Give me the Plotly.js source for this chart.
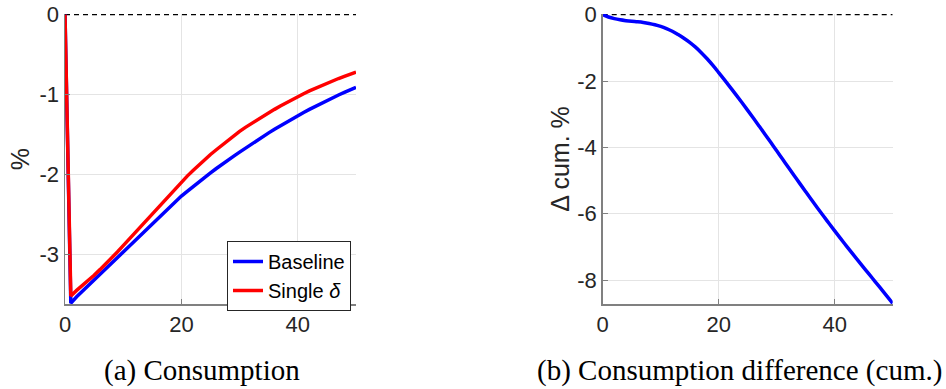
<!DOCTYPE html>
<html><head><meta charset="utf-8">
<script src="https://cdn.plot.ly/plotly-3.0.1.min.js"></script>
<style>html,body{margin:0;padding:0;background:#fff}#chart{width:946px;height:389px}</style>
</head><body><div id="chart"></div>
<script>
const periods = [0,1,2,3,4,5,6,7,8,9,10,11,12,13,14,15,16,17,18,19,20,21,22,23,24,25,26,27,28,29,30,31,32,33,34,35,36,37,38,39,40,41,42,43,44,45,46,47,48,49,50];
const baseline = [0,-3.61,-3.53,-3.46,-3.39,-3.32,-3.25,-3.17,-3.10,-3.03,-2.96,-2.89,-2.82,-2.76,-2.69,-2.62,-2.55,-2.48,-2.41,-2.34,-2.27,-2.21,-2.15,-2.09,-2.035,-1.98,-1.925,-1.87,-1.82,-1.77,-1.72,-1.67,-1.62,-1.572,-1.525,-1.479,-1.434,-1.39,-1.347,-1.305,-1.264,-1.224,-1.185,-1.147,-1.11,-1.074,-1.039,-1.005,-0.972,-0.94,-0.909];
const singleDelta = [0,-3.52,-3.45,-3.39,-3.33,-3.26,-3.19,-3.12,-3.05,-2.97,-2.89,-2.81,-2.73,-2.65,-2.57,-2.49,-2.41,-2.33,-2.25,-2.17,-2.09,-2.02,-1.95,-1.88,-1.815,-1.75,-1.69,-1.63,-1.57,-1.515,-1.46,-1.41,-1.363,-1.317,-1.272,-1.228,-1.185,-1.143,-1.102,-1.063,-1.025,-0.989,-0.954,-0.921,-0.889,-0.858,-0.828,-0.799,-0.771,-0.744,-0.718];
const cumDiff = [0,-0.07,-0.12,-0.155,-0.18,-0.20,-0.215,-0.235,-0.265,-0.305,-0.355,-0.42,-0.50,-0.60,-0.71,-0.835,-0.98,-1.145,-1.33,-1.53,-1.745,-1.965,-2.189,-2.417,-2.649,-2.885,-3.124,-3.366,-3.61,-3.856,-4.103,-4.351,-4.599,-4.846,-5.092,-5.336,-5.578,-5.817,-6.053,-6.286,-6.516,-6.743,-6.967,-7.188,-7.406,-7.622,-7.836,-8.05,-8.265,-8.48,-8.70];
const refX = [0, 50];
const refY = [0, 0];
const xTicks = [0, 20, 40];
const xTickText = ['0', '20', '40'];
const yTicksA = [0, -1, -2, -3];
const yTickTextA = ['0', '-1', '-2', '-3'];
const yTicksB = [0, -2, -4, -6, -8];
const yTickTextB = ['0', '-2', '-4', '-6', '-8'];
const captionA = '(a) Consumption';
const captionB = '(b) Consumption difference (cum.)';

const W = 946, H = 389;
const sans = 'Liberation Sans, Arial, sans-serif';
const tickFont = {family: sans, size: 22, color: '#262626'};
const axisCommon = {
  showgrid: true, gridcolor: '#e4e4e4', gridwidth: 1,
  showline: true, linecolor: '#808080', linewidth: 1.5,
  ticks: 'inside', ticklen: 5, tickcolor: '#808080', tickwidth: 1,
  zeroline: false, tickfont: tickFont, fixedrange: true
};
const yDom = [1 - 304/H, 1 - 14/H];

const traces = [
  {x: refX, y: refY, xaxis: 'x', yaxis: 'y', mode: 'lines', line: {color: '#000', width: 1.1, dash: '5px,4px'}, showlegend: false, hoverinfo: 'skip'},
  {x: periods, y: baseline, xaxis: 'x', yaxis: 'y', mode: 'lines', name: 'Baseline', line: {color: '#0000ff', width: 3.5}},
  {x: periods, y: singleDelta, xaxis: 'x', yaxis: 'y', mode: 'lines', name: 'Single <i>δ</i>', line: {color: '#ff0000', width: 3.5}},
  {x: refX, y: refY, xaxis: 'x2', yaxis: 'y2', mode: 'lines', line: {color: '#000', width: 1.1, dash: '5px,4px'}, showlegend: false, hoverinfo: 'skip'},
  {x: periods, y: cumDiff, xaxis: 'x2', yaxis: 'y2', mode: 'lines', showlegend: false, line: {color: '#0000ff', width: 3.5, shape: 'spline', smoothing: 1}}
];

const layout = {
  width: W, height: H,
  margin: {l: 0, r: 0, t: 0, b: 0},
  paper_bgcolor: '#fff', plot_bgcolor: '#fff',
  showlegend: true,
  xaxis: Object.assign({}, axisCommon, {domain: [65/W, 356/W], range: [0, 50], tickvals: xTicks, ticktext: xTickText, anchor: 'y'}),
  yaxis: Object.assign({}, axisCommon, {domain: yDom, range: [-3.62, 0.008], tickvals: yTicksA, ticktext: yTickTextA, anchor: 'x',
    title: {text: '%', font: {family: sans, size: 25, color: '#262626'}, standoff: 3}}),
  xaxis2: Object.assign({}, axisCommon, {domain: [602.7/W, 892.7/W], range: [0, 50], tickvals: xTicks, ticktext: xTickText, anchor: 'y2'}),
  yaxis2: Object.assign({}, axisCommon, {domain: yDom, range: [-8.72, 0.02], tickvals: yTicksB, ticktext: yTickTextB, anchor: 'x2',
    title: {text: 'Δ cum. %', font: {family: sans, size: 25, color: '#262626'}, standoff: 0}}),
  legend: {x: 351/W, xanchor: 'right', y: 1 - 241/H, yanchor: 'top', bgcolor: '#fff', bordercolor: '#262626', borderwidth: 1,
    font: {family: sans, size: 20, color: '#000'}, tracegroupgap: 0, itemwidth: 30},
  annotations: [
    {text: captionA, xref: 'paper', yref: 'paper', x: 202/W, y: 1 - 370/H, xanchor: 'center', yanchor: 'middle', showarrow: false,
     font: {family: 'Liberation Serif, Times New Roman, serif', size: 29, color: '#000'}},
    {text: captionB, xref: 'paper', yref: 'paper', x: 739/W, y: 1 - 370/H, xanchor: 'center', yanchor: 'middle', showarrow: false,
     font: {family: 'Liberation Serif, Times New Roman, serif', size: 29, color: '#000'}}
  ]
};

Plotly.newPlot('chart', traces, layout, {displayModeBar: false, staticPlot: true});
</script>
</body></html>
